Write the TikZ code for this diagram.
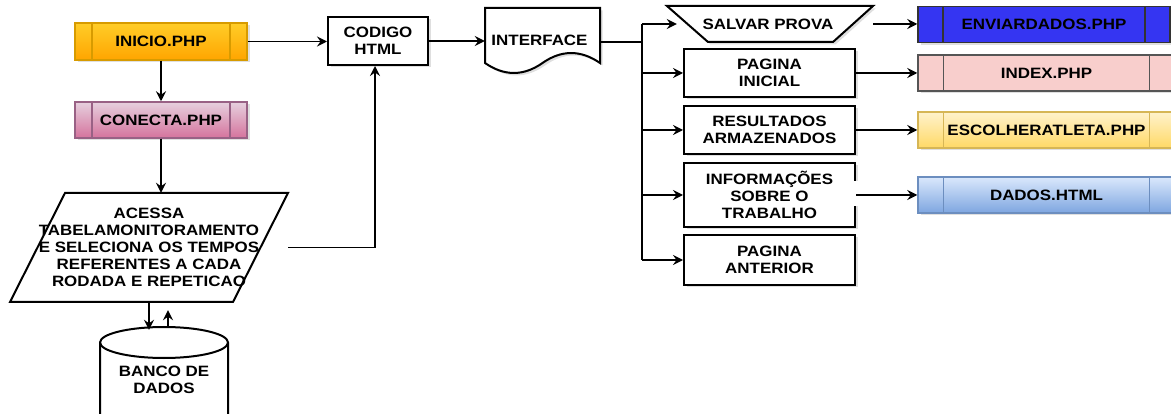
\documentclass[tikz,border=0pt]{standalone}
\usepackage{fontspec}
\setmainfont{Liberation Sans}[FakeStretch=1.13]
\usetikzlibrary{arrows.meta,shadows,calc}

\definecolor{inicioTop}{HTML}{FFCD28}
\definecolor{inicioBot}{HTML}{FFA500}
\definecolor{inicioLine}{HTML}{D79B00}
\definecolor{conectaTop}{HTML}{E6D0DE}
\definecolor{conectaBot}{HTML}{D5739D}
\definecolor{conectaLine}{HTML}{996185}
\definecolor{envFill}{HTML}{3535F2}
\definecolor{envLine}{HTML}{333333}
\definecolor{indexFill}{HTML}{F8CECC}
\definecolor{indexLine}{HTML}{555555}
\definecolor{escTop}{HTML}{FFF2CC}
\definecolor{escBot}{HTML}{FFD966}
\definecolor{escLine}{HTML}{D6B656}
\definecolor{dadosTop}{HTML}{DAE8FC}
\definecolor{dadosBot}{HTML}{7EA6E0}
\definecolor{dadosLine}{HTML}{6C8EBF}

\begin{document}
\begin{tikzpicture}[x=1pt,y=-1pt,
  lbl/.style={font=\bfseries\fontsize{15}{17}\selectfont, align=center, text=black, inner sep=0pt},
  shade/.style={drop shadow={shadow xshift=2.5pt, shadow yshift=-2.5pt, opacity=0.25}},
  box/.style={lbl, rectangle, draw=black, line width=2pt, fill=white, shade},
  proc/.style n args={3}{lbl, rectangle, draw=#3, line width=1.5pt,
    top color=#1, bottom color=#2, shade,
    path picture={
      \draw[#3, line width=1.5pt]
        ($(path picture bounding box.north west)!0.1!(path picture bounding box.north east)$) --
        ($(path picture bounding box.south west)!0.1!(path picture bounding box.south east)$)
        ($(path picture bounding box.north east)!0.1!(path picture bounding box.north west)$) --
        ($(path picture bounding box.south east)!0.1!(path picture bounding box.south west)$);
    }},
  flat/.style n args={2}{proc={#1}{#1}{#2}},
  arr/.style={-{Stealth[length=10pt,width=10pt,inset=3.5pt]}, line width=1.8pt},
  link/.style={line width=1.8pt},
  outline/.style={line width=2pt},
]
\useasboundingbox (0,0) rectangle (1171,414);

% ---- left column ----
\node[proc={inicioTop}{inicioBot}{inicioLine}, minimum width=172pt, minimum height=37pt]
  (inicio) at (161,41.5) {INICIO.PHP};
\node[proc={conectaTop}{conectaBot}{conectaLine}, minimum width=172pt, minimum height=36pt]
  (conecta) at (161,120) {CONECTA.PHP};

% data step (parallelogram)
\draw[outline] (65,193) -- (288,193) -- (233,302) -- (10,302) -- cycle;
\node[lbl, minimum width=278pt, minimum height=109pt] (acessa) at (149,247.5)
  {ACESSA\hspace{30pt}\\TABELAMONITORAMENTO\\E SELECIONA OS TEMPOS\\REFERENTES A CADA\\RODADA E REPETICAO};

% database (cylinder)
\node[lbl, minimum width=128pt, minimum height=106pt] (banco) at (164,380) {};
\draw[outline, fill=white]
  (100,342.5) -- (100,417.5) arc[start angle=180, end angle=360, x radius=64, y radius=-15.5]
  -- (228,342.5) arc[start angle=0, end angle=180, x radius=64, y radius=-15.5];
\draw[outline] (100,342.5) arc[start angle=180, end angle=360, x radius=64, y radius=-15.5];
\node[lbl] (bancotxt) at (banco) {BANCO DE\\DADOS};

% ---- middle ----
\node[box, minimum width=100pt, minimum height=48pt] (codigo) at (378,41) {CODIGO\\HTML};

\draw[outline, fill=white, shade]
  (485,8) -- (600,8) -- (600,63)
  .. controls (580.7,49.7) and (561.5,49.7) .. (542.5,63)
  .. controls (523.5,76.3) and (504.3,76.3) .. (485,63) -- cycle;
\node[lbl, minimum width=115pt, minimum height=65pt] (interface) at (542.5,40.5) {\hspace{-6pt}INTERFACE};

% ---- menu column ----
\draw[outline, fill=white, shade] (667,6) -- (873,6) -- (833,42) -- (708,42) -- cycle;
\node[lbl, minimum width=206pt, minimum height=36pt] (salvar) at (770,24) {\hspace{-4pt}SALVAR PROVA};

\node[box, minimum width=171pt, minimum height=48pt] (inicial) at (769.5,73) {PAGINA\\INICIAL};
\node[box, minimum width=171pt, minimum height=48pt] (resultados) at (769.5,130) {RESULTADOS\\ARMAZENADOS};
\node[box, minimum width=171pt, minimum height=64pt] (info) at (769.5,195) {INFORMAÇÕES\\SOBRE O\\TRABALHO};
\node[box, minimum width=171pt, minimum height=50pt] (anterior) at (769.5,260) {PAGINA\\ANTERIOR};
\fill[white] (852,181) rectangle (860,206);

% ---- target pages ----
\node[flat={envFill}{envLine}, minimum width=252pt, minimum height=36pt] (env) at (1044,24.5) {ENVIARDADOS.PHP};
\node[flat={indexFill}{indexLine}, minimum width=257pt, minimum height=36pt] (index) at (1046.5,73) {INDEX.PHP};
\node[proc={escTop}{escBot}{escLine}, minimum width=257pt, minimum height=36pt] (esc) at (1046.5,130) {ESCOLHERATLETA.PHP};
\node[proc={dadosTop}{dadosBot}{dadosLine}, minimum width=257pt, minimum height=36pt] (dados) at (1046.5,195) {DADOS.HTML};

% ---- connectors ----
\draw[arr] (inicio) -- (conecta);
\draw[arr] (inicio.east) -- (codigo.west |- inicio.east);
\draw[arr] (conecta.south) -- (conecta.south |- acessa.north);
\draw[arr] (acessa.east) -| ([xshift=-3pt]codigo.south);
\draw[arr] (acessa.south) -- ([yshift=-3pt]acessa.south |- banco.north);
\draw[arr, shorten >=8pt] ([xshift=19pt]acessa.south |- banco.north) -- ([xshift=19pt]acessa.south);
\draw[arr] (codigo.east) -- (interface.west |- codigo.east);

\coordinate (bus) at (642,42);
\draw[link] (interface.east |- bus) -- (bus);
\draw[link] (bus |- salvar) -- (bus |- anterior);
\draw[arr] (bus |- salvar) -- ([xshift=10pt]salvar.west);
\draw[arr] (bus |- inicial) -- (inicial.west);
\draw[arr] (bus |- resultados) -- (resultados.west);
\draw[arr] (bus |- info) -- (info.west);
\draw[arr] (bus |- anterior) -- (anterior.west);

\draw[arr] (salvar.east) -- (salvar.east -| env.west);
\draw[arr] (inicial.east) -- (index.west);
\draw[arr] (resultados.east) -- (esc.west);
\draw[arr] (info.east) -- (dados.west);
\end{tikzpicture}
\end{document}
